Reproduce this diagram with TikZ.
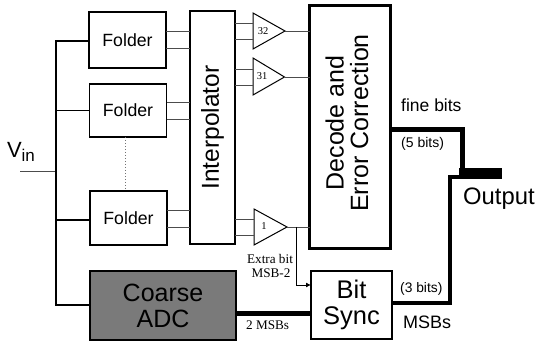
\documentclass[tikz,border=0pt]{standalone}
\usepackage{fontspec}
\setmainfont{Liberation Sans}
\newfontfamily\serifl{Liberation Serif}
\usetikzlibrary{arrows.meta}
\tikzset{
  boxa/.style={draw=black,line width=1.3pt,outer sep=0pt,inner sep=0pt,fill=white},
  folderbox/.style={boxa,minimum width=77pt,minimum height=55pt,font=\fontsize{17.7}{20}\selectfont},
  wirea/.style={line width=0.9pt,draw=black!70},
  bus/.style={line width=1.7pt,line join=miter},
  fat/.style={line width=5pt,line join=miter},
  med/.style={line width=3.8pt,line join=miter},
  amp/.style={line width=1pt,fill=white},
  ser/.style={font=\serifl\fontsize{13.2}{14}\selectfont,inner sep=0pt},
  num/.style={font=\serifl\fontsize{10.5}{11}\selectfont,inner sep=0pt},
  lab/.style={inner sep=0pt,anchor=base west},
}
\begin{document}
\begin{tikzpicture}[x=1pt,y=-1pt]
\useasboundingbox (0,0) rectangle (535,344);
% folders
\node[folderbox,minimum height=56pt] (f1) at (127.5,40) {Folder};
\node[folderbox,minimum height=53pt] (f2) at (128,110.5) {Folder};
\node[folderbox,minimum height=54pt] (f3) at (128.5,218) {Folder};
% interpolator
\node[boxa,minimum width=45pt,minimum height=233pt,line width=1.6pt] (ip) at (212.5,127.5)
  {\rotatebox{90}{\fontsize{24.5}{28}\selectfont Interpolator}};
% decode
\node[boxa,minimum width=81pt,minimum height=243pt,line width=3pt] (dec) at (350,127) {};
\node[inner sep=0pt] (dect) at (347,123)
  {\rotatebox{90}{\parbox{220pt}{\centering\fontsize{25}{24.5}\selectfont Decode and\\ Error Correction}}};
% coarse
\node[boxa,fill=black!52,minimum width=146pt,minimum height=69pt,line width=1.2pt,
  align=center,font=\fontsize{25}{26}\selectfont,text=black] (adc) at (163,305.5) {Coarse\\ADC};
% bit sync
\node[boxa,minimum width=81pt,minimum height=68pt,line width=1.2pt,align=center,
  font=\fontsize{25.5}{26}\selectfont] (bs) at (351.5,305) {Bit\\Sync};
% amplifiers
\coordinate (t32) at (285,31);
\coordinate (t31) at (284.5,77);
\coordinate (t1) at (287,227);
\draw[amp] (253,13) -- (t32) -- (253,49) -- cycle;
\draw[amp] (253,58) -- (t31) -- (253,95) -- cycle;
\draw[amp] (254,209) -- (t1) -- (254,245) -- cycle;
\node[num] (n32) at (263,31) {32};
\node[num] (n31) at (262,76) {31};
\node[num] (n1) at (264,226) {1};
% wires folder -> interpolator
\draw[wirea] (f1.east |- 0,31) -- (ip.west |- 0,31);
\draw[wirea] (f1.east |- 0,48) -- (ip.west |- 0,48);
\draw[wirea] (f2.east |- 0,102) -- (ip.west |- 0,102);
\draw[wirea] (f2.east |- 0,119) -- (ip.west |- 0,119);
\draw[wirea] (f3.east |- 0,210) -- (ip.west |- 0,210);
\draw[wirea] (f3.east |- 0,227) -- (ip.west |- 0,227);
% interpolator -> amps
\draw[wirea] (ip.east |- 0,23) -- (253,23);
\draw[wirea] (ip.east |- 0,39) -- (253,39);
\draw[wirea] (ip.east |- 0,69) -- (253,69);
\draw[wirea] (ip.east |- 0,85) -- (253,85);
\draw[wirea] (ip.east |- 0,219) -- (254,219);
\draw[wirea] (ip.east |- 0,235) -- (254,235);
% amps -> decode
\draw[wirea] (t32) -- (dec.west |- t32);
\draw[wirea] (t31) -- (dec.west |- t31);
\draw[wirea] (t1) -- (dec.west |- t1);
% extra bit
\coordinate (eb) at (296,227);
\draw[wirea,-{Latex[length=5pt,width=5pt]},black] (eb) -- (eb |- 0,285) -- (bs.west |- 0,285);
% input bus
\coordinate (vin) at (20,172);
\coordinate (bj) at (56,172);
\draw[line width=1pt,draw=black!70] (vin) -- (bj);
\draw[bus] (f1.west |- 0,41) -- (56,41) -- (56,305) -- (adc.west |- 0,305);
\draw[bus] (56,110.5) -- (f2.west |- 0,110.5);
\draw[bus] (56,220) -- (f3.west |- 0,220);
% folder dots
\draw[black!55,line width=0.7pt,dash pattern=on 1.5pt off 1.5pt] (f2.south -| 125,0) -- (f3.north -| 125,0);
% outputs
\draw[fat] (adc.east |- 0,313.5) -- (bs.west |- 0,313.5);
\coordinate (oa) at (462,129.5);
\coordinate (oc) at (459,173.5);
\coordinate (ob) at (501.5,173.5);
\draw[fat] (dec.east |- 0,129.5) -- (oa) -- (oa |- 0,170);
\draw[line width=11pt] (oc) -- (ob);
\draw[med] (bs.east |- 0,303) -- (450,303) -- (450,177.4) -- (oc |- 0,177.4);
% labels
\node[lab,font=\fontsize{22}{26}\selectfont] (vl) at (7,158) {V};
\node[lab,font=\fontsize{17}{20}\selectfont] (vs) at (21.5,162) {in};
\node[lab,font=\fontsize{17.5}{20}\selectfont] (l1) at (401,112) {fine bits};
\node[lab,font=\fontsize{14}{16}\selectfont] (l2) at (401,148) {(5 bits)};
\node[lab,font=\fontsize{13.8}{16}\selectfont] (l3) at (400,293) {(3 bits)};
\node[lab,font=\fontsize{18}{20}\selectfont] (l4) at (403,329) {MSBs};
\node[lab,font=\fontsize{23.8}{26}\selectfont] (l5) at (463,205) {Output};
\node[ser,anchor=base] (l6) at (270,264) {Extra bit};
\node[ser,anchor=base] (l6b) at (271,278) {MSB-2};
\node[ser,anchor=base west] (l7) at (246,330) {2 MSBs};
\end{tikzpicture}
\end{document}
